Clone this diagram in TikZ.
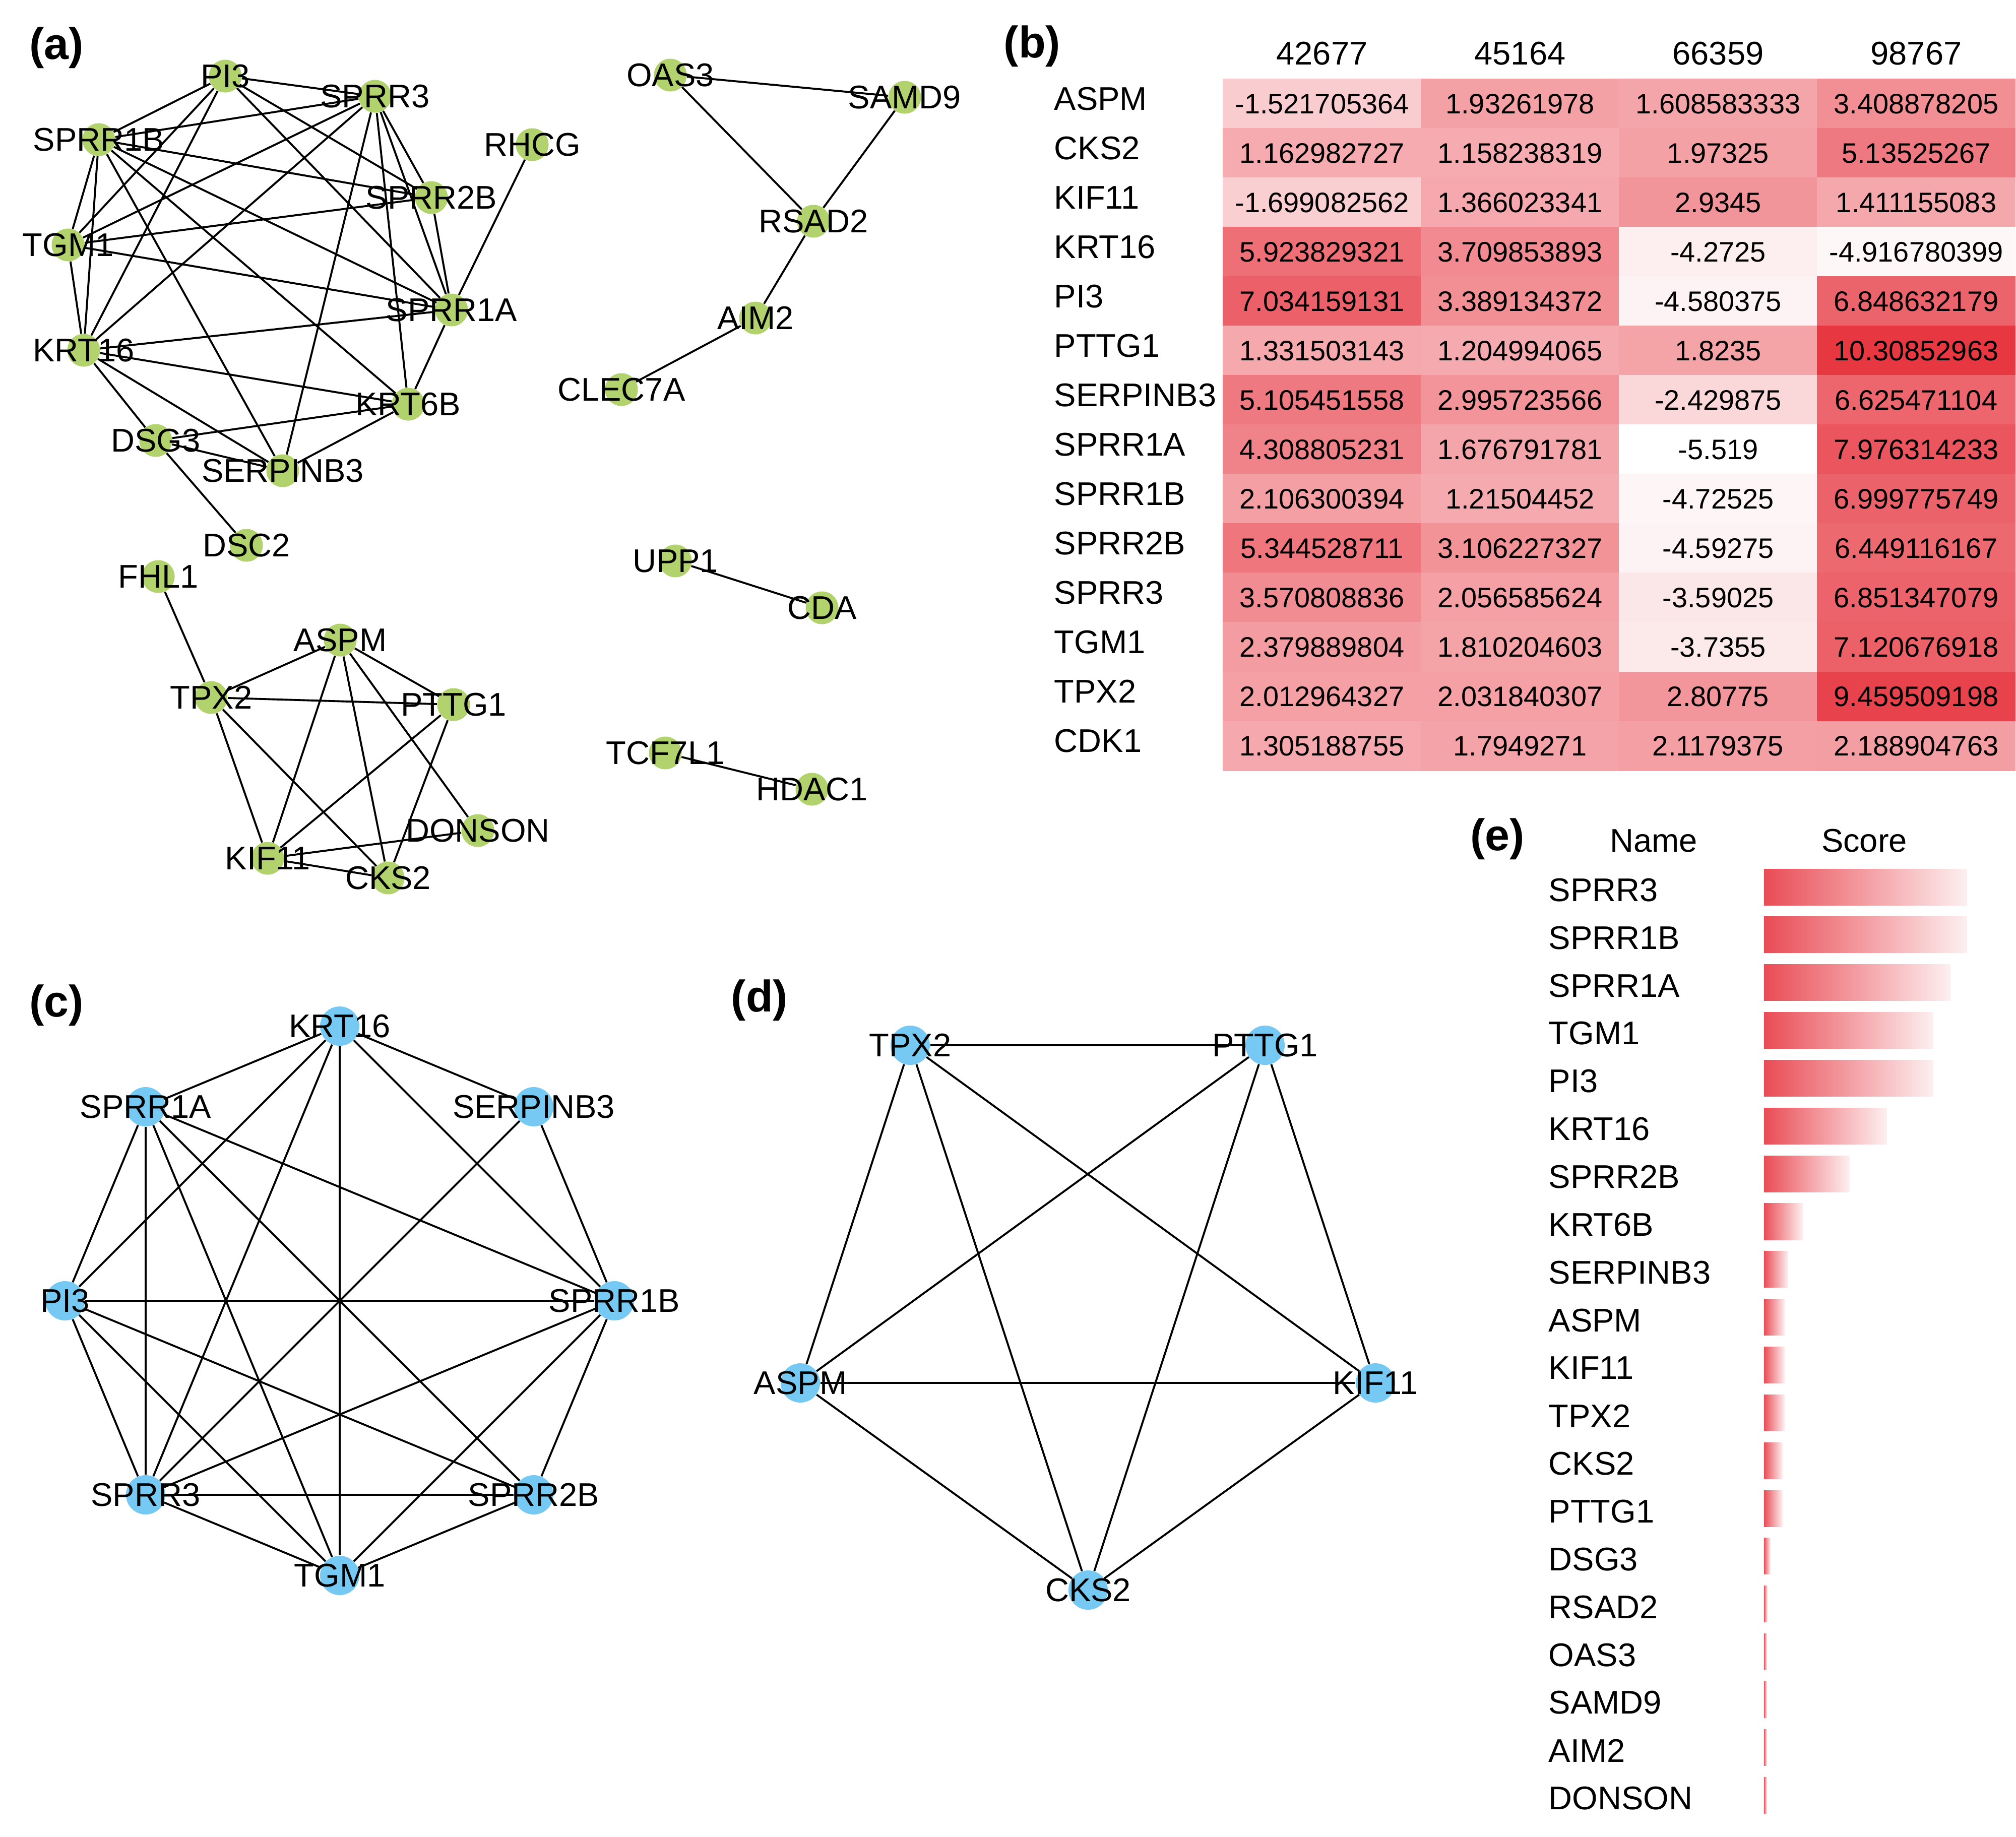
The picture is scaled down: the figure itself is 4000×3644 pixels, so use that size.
\documentclass[tikz,border=0pt]{standalone}
\usepackage{fontspec}
\setmainfont{Liberation Sans}
\usepackage{tikz}
\definecolor{hmred}{RGB}{231,56,66}
\definecolor{ngreen}{RGB}{178,210,110}
\definecolor{nblue}{RGB}{118,201,242}

\begin{document}
\begin{tikzpicture}[x=0.01cm,y=-0.01cm,
                lab/.style={font=\fontsize{18.5}{20}\selectfont,inner sep=0pt},
                gnode/.style={circle,fill=ngreen,minimum size=0.65cm,inner sep=0pt,
                        label={[lab]center:#1}},
                bnode/.style={circle,fill=nblue,minimum size=0.78cm,inner sep=0pt,
                        label={[lab]center:#1}},
                edge/.style={line width=1.1pt},
                plabel/.style={font=\fontsize{25}{28}\selectfont\bfseries,inner sep=0pt},
                cell/.style={minimum width=3.94cm,minimum height=0.99cm,inner sep=0pt,
                        font=\fontsize{15.9}{17}\selectfont},
                bar/.style={anchor=west,minimum height=0.72cm,inner sep=0pt,
                        left color=hmred!90!white,right color=hmred!8!white}]
            \useasboundingbox (0,0) rectangle (4000,3644);
            % (a) network
            \node[plabel] (la) at (112,95) {(a)};
            \foreach \n/\x/\y in {PI3/447/151,SPRR3/744/191,SPRR1B/196/277,RHCG/1056/287,
                    SPRR2B/856/392,TGM1/135/486,SPRR1A/896/615,KRT16/166/695,KRT6B/810/802,
                    DSG3/309/874,SERPINB3/561/934,DSC2/489/1082,FHL1/314/1144,ASPM/675/1270,
                    TPX2/419/1384,PTTG1/900/1398,DONSON/948/1648,KIF11/531/1703,CKS2/770/1742,
                    OAS3/1330/149,SAMD9/1795/193,RSAD2/1614/439,AIM2/1499/631,CLEC7A/1233/773,
                    UPP1/1340/1113,CDA/1631/1206,TCF7L1/1320/1494,HDAC1/1611/1566}
                {\node[gnode=\n] (a-\n) at (\x,\y) {};}
            \foreach \u/\v in {PI3/SPRR3,PI3/SPRR1B,PI3/TGM1,PI3/KRT16,PI3/SPRR2B,PI3/SPRR1A,
                    SPRR3/SPRR1B,SPRR3/TGM1,SPRR3/KRT16,SPRR3/SERPINB3,SPRR3/SPRR2B,SPRR3/SPRR1A,
                    SPRR3/KRT6B,SPRR1B/SPRR2B,SPRR1B/SPRR1A,SPRR1B/KRT6B,SPRR1B/SERPINB3,
                    SPRR1B/TGM1,SPRR1B/KRT16,TGM1/SPRR2B,TGM1/SPRR1A,TGM1/KRT16,KRT16/SPRR1A,
                    KRT16/KRT6B,KRT16/SERPINB3,KRT16/DSG3,SPRR2B/SPRR1A,SPRR1A/KRT6B,SPRR1A/RHCG,
                    KRT6B/DSG3,KRT6B/SERPINB3,DSG3/SERPINB3,DSG3/DSC2,
                    FHL1/TPX2,ASPM/TPX2,ASPM/PTTG1,ASPM/KIF11,ASPM/CKS2,ASPM/DONSON,TPX2/PTTG1,
                    TPX2/KIF11,TPX2/CKS2,PTTG1/KIF11,PTTG1/CKS2,KIF11/DONSON,KIF11/CKS2,
                    OAS3/SAMD9,OAS3/RSAD2,SAMD9/RSAD2,RSAD2/AIM2,AIM2/CLEC7A,UPP1/CDA,TCF7L1/HDAC1}
                {\draw[edge] (a-\u) -- (a-\v);}
            % (b) heatmap
            \node[plabel] (lb) at (2048,92) {(b)};
            \foreach \h [count=\c from 0] in {42677,45164,66359,98767}
                {\node[lab] (b-h-\c) at ({2623+393*\c},106) {\h};}
            \foreach \gene/\va/\vb/\vc/\vd [count=\r from 0] in {
                    ASPM/-1.521705364/1.93261978/1.608583333/3.408878205,
                    CKS2/1.162982727/1.158238319/1.97325/5.13525267,
                    KIF11/-1.699082562/1.366023341/2.9345/1.411155083,
                    KRT16/5.923829321/3.709853893/-4.2725/-4.916780399,
                    PI3/7.034159131/3.389134372/-4.580375/6.848632179,
                    PTTG1/1.331503143/1.204994065/1.8235/10.30852963,
                    SERPINB3/5.105451558/2.995723566/-2.429875/6.625471104,
                    SPRR1A/4.308805231/1.676791781/-5.519/7.976314233,
                    SPRR1B/2.106300394/1.21504452/-4.72525/6.999775749,
                    SPRR2B/5.344528711/3.106227327/-4.59275/6.449116167,
                    SPRR3/3.570808836/2.056585624/-3.59025/6.851347079,
                    TGM1/2.379889804/1.810204603/-3.7355/7.120676918,
                    TPX2/2.012964327/2.031840307/2.80775/9.459509198,
                    CDK1/1.305188755/1.7949271/2.1179375/2.188904763}
                {\node[lab,anchor=west] (b-g-\r) at (2091,{196+98*\r}) {\gene};
                 \foreach \v [count=\c from 0] in {\va,\vb,\vc,\vd}
                    {\pgfmathsetmacro\pct{(\v+5.519)/15.8275*100}
                     \node[cell,fill=hmred!\pct!white] (b-\r-\c) at ({2623+393*\c},{206+98*\r}) {\v};}}
            % (c) and (d) sub-networks
            \node[plabel] (lc) at (112,1995) {(c)};
            \foreach \n/\x/\y in {KRT16/674/2036,SERPINB3/1059/2196,SPRR1B/1219/2581,
                    SPRR2B/1059/2966,TGM1/674/3126,SPRR3/289/2966,PI3/129/2581,SPRR1A/289/2196}
                {\node[bnode=\n] (c-\n) at (\x,\y) {};}
            \foreach \u/\v in {KRT16/SPRR1A,KRT16/SERPINB3,KRT16/PI3,KRT16/SPRR3,KRT16/TGM1,
                    KRT16/SPRR1B,SPRR1A/PI3,SPRR1A/SPRR3,SPRR1A/TGM1,SPRR1A/SPRR2B,SPRR1A/SPRR1B,
                    SERPINB3/SPRR1B,SERPINB3/SPRR3,PI3/SPRR1B,PI3/SPRR3,PI3/TGM1,PI3/SPRR2B,
                    SPRR1B/SPRR3,SPRR1B/TGM1,SPRR1B/SPRR2B,SPRR3/SPRR2B,SPRR3/TGM1,SPRR2B/TGM1}
                {\draw[edge] (c-\u) -- (c-\v);}
            \node[plabel] (ld) at (1507,1985) {(d)};
            \foreach \n/\x/\y in {TPX2/1806/2074,PTTG1/2510/2074,ASPM/1588/2744,
                    KIF11/2729/2744,CKS2/2159/3155}
                {\node[bnode=\n] (d-\n) at (\x,\y) {};}
            \foreach \u/\v in {TPX2/PTTG1,TPX2/ASPM,TPX2/CKS2,TPX2/KIF11,PTTG1/ASPM,
                    PTTG1/CKS2,PTTG1/KIF11,ASPM/KIF11,ASPM/CKS2,KIF11/CKS2}
                {\draw[edge] (d-\u) -- (d-\v);}
            % (e) ranking
            \node[plabel] (le) at (2971,1665) {(e)};
            \node[lab] (e-name) at (3281,1668) {Name};
            \node[lab] (e-score) at (3699,1668) {Score};
            \foreach \gene/\w [count=\i from 0] in {SPRR3/403,SPRR1B/403,SPRR1A/370,TGM1/336,
                    PI3/336,KRT16/244,SPRR2B/170,KRT6B/77,SERPINB3/48,ASPM/41,KIF11/41,TPX2/41,
                    CKS2/37,PTTG1/37,DSG3/13,RSAD2/7,OAS3/6,SAMD9/6,AIM2/6,DONSON/6}
                {\node[lab,anchor=west] (e-g-\i) at (3072,{1766+94.85*\i}) {\gene};
                 \node[bar,minimum width={\w*0.01cm}] (e-bar-\i) at (3499,{1760+94.85*\i}) {};}
        \end{tikzpicture}
\end{document}
